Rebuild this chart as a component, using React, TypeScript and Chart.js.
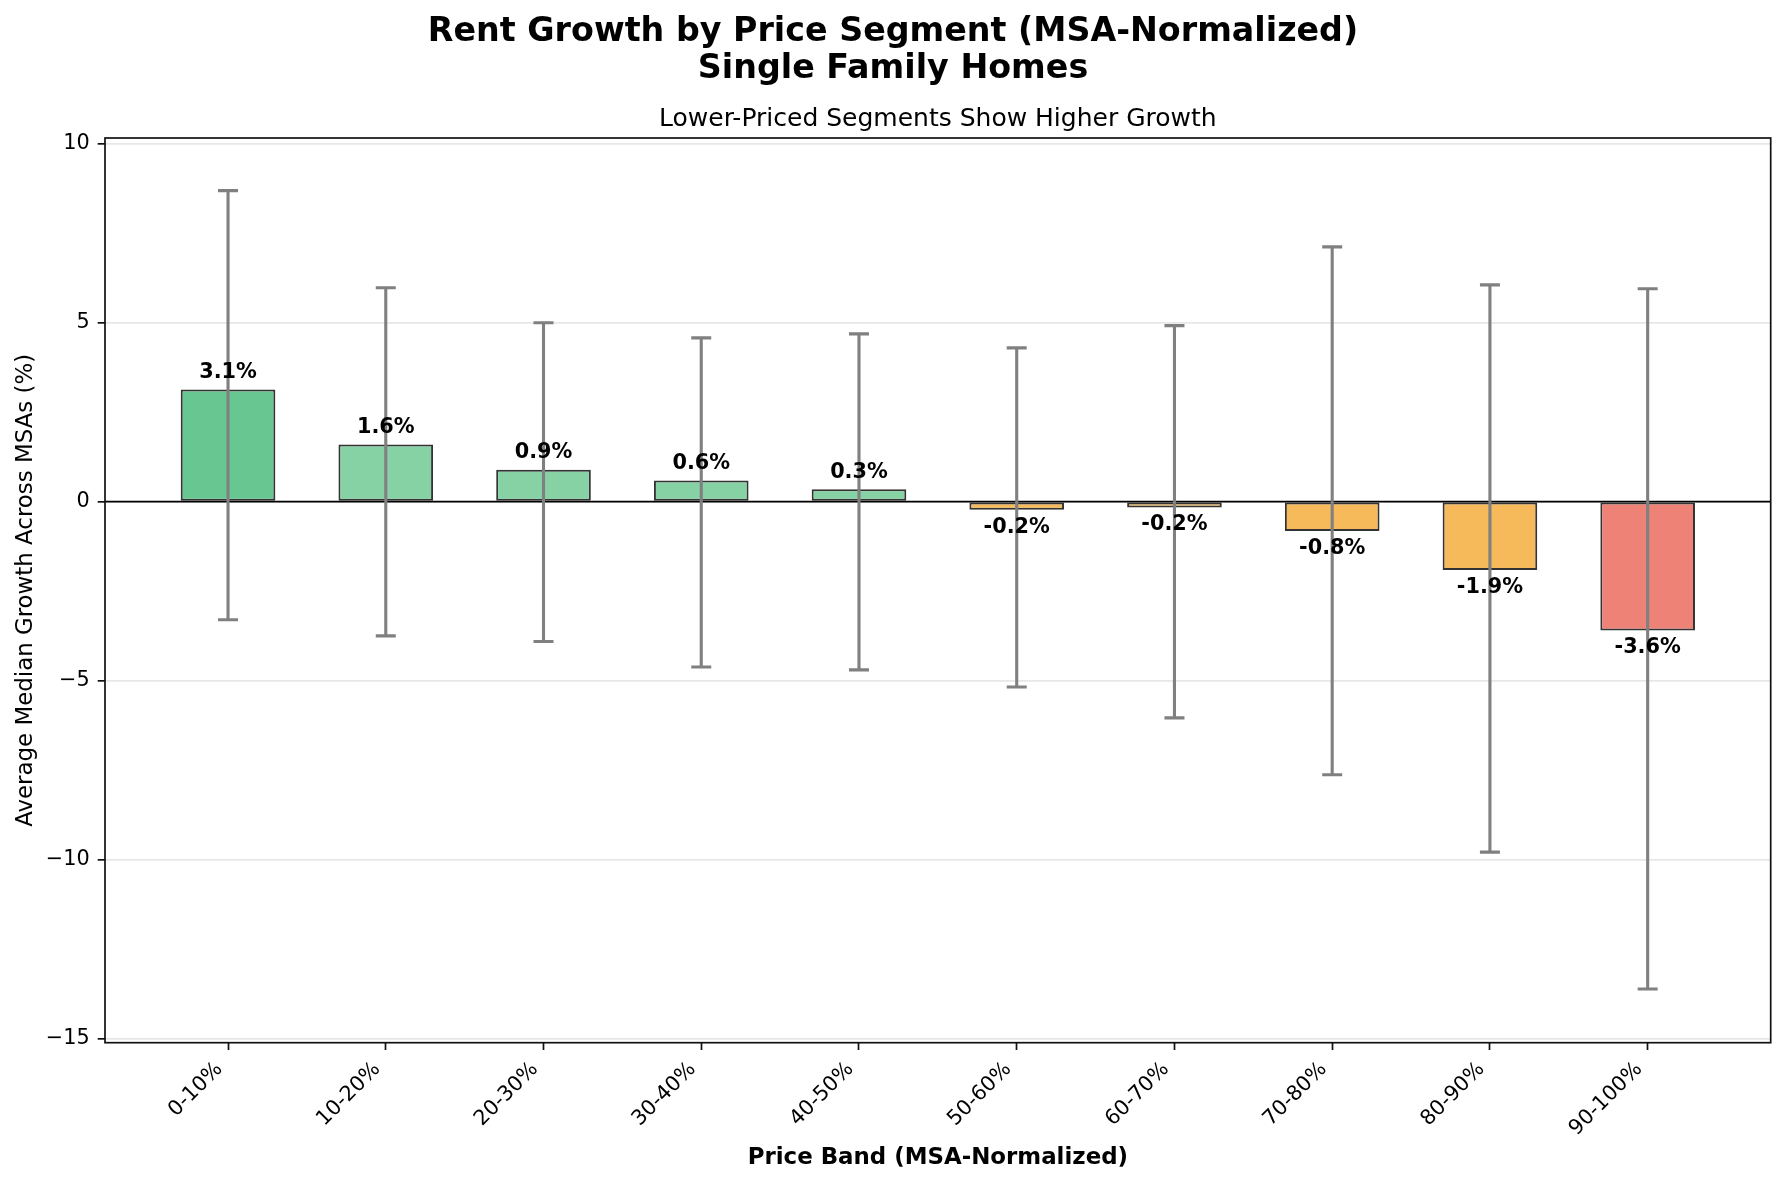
import React, { useEffect, useRef } from 'react';
import { Chart, registerables } from 'chart.js';

Chart.register(...registerables);

const CATEGORIES = ['0-10%', '10-20%', '20-30%', '30-40%', '40-50%', '50-60%', '60-70%', '70-80%', '80-90%', '90-100%'];
const MEDIAN_GROWTH = [3.13, 1.59, 0.89, 0.59, 0.34, -0.23, -0.17, -0.82, -1.91, -3.6];
const RANGE_LOW = [-3.3, -3.75, -3.91, -4.62, -4.7, -5.18, -6.04, -7.63, -9.79, -13.61];
const RANGE_HIGH = [8.68, 5.97, 4.99, 4.57, 4.68, 4.29, 4.91, 7.11, 6.05, 5.94];
const BAR_COLORS = [
  'rgb(104,198,144)',
  'rgb(134,210,164)',
  'rgb(134,210,164)',
  'rgb(134,210,164)',
  'rgb(134,210,164)',
  'rgb(246,186,90)',
  'rgb(246,186,90)',
  'rgb(246,186,90)',
  'rgb(246,186,90)',
  'rgb(238,130,118)',
];
const Y_TICKS = [-15, -10, -5, 0, 5, 10];
const TITLE_LINES = ['Rent Growth by Price Segment (MSA-Normalized)', 'Single Family Homes'];
const SUBTITLE = 'Lower-Priced Segments Show Higher Growth';
const X_TITLE = 'Price Band (MSA-Normalized)';
const Y_TITLE = 'Average Median Growth Across MSAs (%)';

const FONT = "'DejaVu Sans', 'Liberation Sans', sans-serif";
const W = 1786;
const H = 1184;

export default function App() {
  const ref = useRef<HTMLCanvasElement | null>(null);

  useEffect(() => {
    document.body.style.margin = '0';
    const canvas = ref.current;
    if (!canvas) return;

    const overlay = {
      id: 'overlay',
      beforeDraw(chart: any) {
        const ctx = chart.ctx;
        ctx.save();
        ctx.fillStyle = '#ffffff';
        ctx.fillRect(0, 0, chart.width, chart.height);
        ctx.restore();
      },
      afterDatasetsDraw(chart: any) {
        const ctx = chart.ctx;
        const xs = chart.scales.x;
        const ys = chart.scales.y;
        const area = chart.chartArea;
        ctx.save();
        // zero line
        const y0 = ys.getPixelForValue(0);
        ctx.strokeStyle = '#000000';
        ctx.lineWidth = 1.7;
        ctx.beginPath();
        ctx.moveTo(area.left, y0);
        ctx.lineTo(area.right, y0);
        ctx.stroke();
        // error bars
        ctx.strokeStyle = '#808080';
        ctx.lineWidth = 3.1;
        ctx.lineCap = 'butt';
        for (let i = 0; i < CATEGORIES.length; i++) {
          const x = xs.getPixelForValue(i);
          const yl = ys.getPixelForValue(RANGE_LOW[i]);
          const yh = ys.getPixelForValue(RANGE_HIGH[i]);
          ctx.beginPath();
          ctx.moveTo(x, yl);
          ctx.lineTo(x, yh);
          ctx.moveTo(x - 10, yl);
          ctx.lineTo(x + 10, yl);
          ctx.moveTo(x - 10, yh);
          ctx.lineTo(x + 10, yh);
          ctx.stroke();
        }
        // value labels
        ctx.fillStyle = '#000000';
        ctx.font = `bold 20.8px ${FONT}`;
        ctx.textAlign = 'center';
        ctx.textBaseline = 'alphabetic';
        for (let i = 0; i < MEDIAN_GROWTH.length; i++) {
          const v = MEDIAN_GROWTH[i];
          const x = xs.getPixelForValue(i);
          const py = ys.getPixelForValue(v);
          const txt = `${v.toFixed(1)}%`;
          const by = v >= 0 ? py - 11.7 : py + 22.8;
          ctx.fillText(txt, x, by);
        }
        // spines
        ctx.strokeStyle = '#111111';
        ctx.lineWidth = 1.7;
        ctx.strokeRect(area.left, area.top, area.right - area.left, area.bottom - area.top);
        ctx.restore();
      },
      afterDraw(chart: any) {
        const ctx = chart.ctx;
        const area = chart.chartArea;
        const cx = (area.left + area.right) / 2;
        const cy = (area.top + area.bottom) / 2;
        ctx.save();
        ctx.fillStyle = '#000000';
        ctx.textAlign = 'center';
        ctx.textBaseline = 'alphabetic';
        ctx.font = `bold 33.3px ${FONT}`;
        ctx.fillText(TITLE_LINES[0], W / 2, 40.5);
        ctx.fillText(TITLE_LINES[1], W / 2, 78);
        ctx.font = `25px ${FONT}`;
        ctx.fillText(SUBTITLE, cx, 126);
        ctx.font = `bold 22.9px ${FONT}`;
        ctx.fillText(X_TITLE, cx, 1164);
        ctx.font = `22.9px ${FONT}`;
        ctx.translate(31.7, cy);
        ctx.rotate(-Math.PI / 2);
        ctx.fillText(Y_TITLE, 0, 0);
        ctx.restore();
      },
    };

    const chart = new Chart(canvas, {
      type: 'bar',
      data: {
        datasets: [
          {
            data: MEDIAN_GROWTH.map((v, i) => ({ x: i, y: v })),
            backgroundColor: BAR_COLORS,
            borderColor: 'rgba(0,0,0,0.8)',
            borderWidth: 2,
            borderSkipped: false,
            barPercentage: 0.6,
            categoryPercentage: 1,
          } as any,
        ],
      },
      options: {
        responsive: false,
        animation: false,
        devicePixelRatio: 1,
        layout: { padding: { top: 138, left: 0, right: 15.3, bottom: 0 } },
        plugins: {
          legend: { display: false },
          tooltip: { enabled: false },
          title: { display: false },
        },
        scales: {
          x: {
            type: 'linear',
            min: -0.78,
            max: 9.78,
            offset: false,
            afterBuildTicks: (s: any) => {
              s.ticks = CATEGORIES.map((_, i) => ({ value: i }));
            },
            afterFit: (s: any) => {
              s.height = H - 1042.7;
            },
            ticks: {
              callback: (v: any) => CATEGORIES[Math.round(Number(v))],
              minRotation: 45,
              maxRotation: 45,
              autoSkip: false,
              font: { size: 20.8, family: FONT },
              color: '#000000',
              padding: 7.2,
              labelOffset: -8.6,
            },
            grid: {
              display: true,
              offset: false,
              drawOnChartArea: false,
              drawTicks: true,
              tickLength: 7.3,
              tickColor: '#111111',
              tickWidth: 1.7,
            },
            border: { display: false },
          },
          y: {
            type: 'linear',
            min: -15.11,
            max: 10.15,
            afterBuildTicks: (s: any) => {
              s.ticks = Y_TICKS.map((v) => ({ value: v }));
            },
            afterFit: (s: any) => {
              s.width = 105;
            },
            ticks: {
              callback: (v: any) => String(v).replace('-', '\u2212'),
              font: { size: 20.8, family: FONT },
              color: '#000000',
              padding: 8,
            },
            grid: {
              color: '#e7e7e7',
              lineWidth: 1.7,
              drawTicks: true,
              tickLength: 7.3,
              tickColor: '#111111',
              tickWidth: 1.7,
            },
            border: { display: false },
          },
        },
      } as any,
      plugins: [overlay],
    });

    return () => {
      chart.destroy();
    };
  }, []);

  return (
    <div style={{ width: W, height: H, background: '#ffffff' }}>
      <canvas ref={ref} width={W} height={H} style={{ display: 'block', width: W, height: H }} />
    </div>
  );
}
